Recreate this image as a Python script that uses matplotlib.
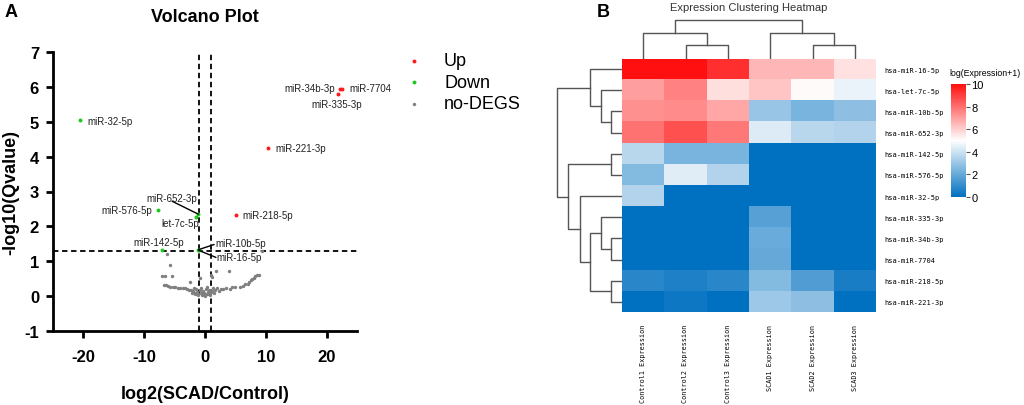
import numpy as np
import matplotlib
matplotlib.use("Agg")
import matplotlib.pyplot as plt
from matplotlib.colors import LinearSegmentedColormap

plt.rcParams['font.family'] = ['Liberation Sans', 'DejaVu Sans']
plt.rcParams['axes.unicode_minus'] = False

# ---------------- Volcano data ----------------
up_names = ["miR-34b-3p", "miR-7704", "miR-335-3p", "miR-221-3p", "miR-218-5p"]
up_x = [22.2, 22.6, 21.9, 10.4, 5.1]
up_y = [5.95, 5.95, 5.80, 4.24, 2.34]

down_names = ["miR-32-5p", "miR-576-5p", "miR-652-3p", "let-7c-5p", "miR-142-5p",
              "miR-10b-5p", "miR-16-5p"]
down_x = [-20.5, -7.7, -1.1, -1.5, -7.05, -1.1, -1.0]
down_y = [5.04, 2.47, 2.35, 2.26, 1.33, 1.33, 1.31]

nodeg_x = [-6.2, -5.7, -7.05, -6.5, -5.5, -0.83, 0.94, 1.8, 3.9, -2.4, 9.37, 1.2,
           -6.7, -6.4, -6.1, -5.7, -5.3, -4.9, -4.5, -4.1, -3.7, -3.3, -2.9, -2.6, -2.3,
           -2.0, -1.8, -1.7, -1.5, -1.3, -1.2, -1.1, -0.9, -0.7, -0.6, -0.5, -0.3, -0.1,
           0.0, 0.1, 0.3, 0.4, 0.5, 0.7, 0.8, 0.9, 1.1, 1.3, 1.5, 1.7, 2.0, 2.3, 2.6,
           3.0, 3.5, 4.1, 4.4, 4.9, 5.8, 6.3, 6.6, 7.0, 7.2, 7.5, 7.7, 8.0, 8.3, 8.6, 8.9,
           -1.6, -0.2, 0.6, 1.0, -2.1]
nodeg_y = [1.20, 0.90, 0.57, 0.57, 0.57, 0.51, 0.60, 0.73, 0.73, 0.41, 1.28, 0.55,
           0.32, 0.33, 0.28, 0.26, 0.25, 0.25, 0.24, 0.23, 0.22, 0.22, 0.20, 0.18, 0.17,
           0.15, 0.22, 0.10, 0.20, 0.12, 0.02, 0.06, 0.18, 0.10, 0.24, 0.03, 0.14, 0.08,
           0.01, 0.20, 0.05, 0.25, 0.12, 0.18, 0.03, 0.08, 0.15, 0.22, 0.10, 0.17, 0.22,
           0.15, 0.20, 0.20, 0.22, 0.20, 0.25, 0.25, 0.25, 0.28, 0.34, 0.36, 0.40, 0.45,
           0.49, 0.53, 0.57, 0.60, 0.60, 0.06, 0.04, 0.07, 0.12, 0.09]

# label positions (data coords) and alignment
label_pos = {
    "miR-32-5p": (-19.3, 5.03, "left", "center"),
    "miR-34b-3p": (21.4, 5.97, "right", "center"),
    "miR-7704": (23.7, 5.97, "left", "center"),
    "miR-335-3p": (21.65, 5.5, "center", "center"),
    "miR-221-3p": (11.5, 4.24, "left", "center"),
    "miR-218-5p": (6.2, 2.34, "left", "center"),
    "miR-576-5p": (-8.7, 2.47, "right", "center"),
    "miR-652-3p": (-5.5, 2.81, "center", "center"),
    "let-7c-5p": (-4.1, 2.09, "center", "center"),
    "miR-142-5p": (-7.55, 1.54, "center", "center"),
    "miR-10b-5p": (1.65, 1.51, "left", "center"),
    "miR-16-5p": (1.8, 1.11, "left", "center"),
}
with_line = ["miR-652-3p", "miR-10b-5p", "miR-16-5p"]
line_start = {"miR-652-3p": (-5.4, 2.72), "miR-10b-5p": (1.5, 1.48), "miR-16-5p": (1.8, 1.11)}

# ---------------- Heatmap data ----------------
genes = ["hsa-miR-16-5p", "hsa-let-7c-5p", "hsa-miR-10b-5p", "hsa-miR-652-3p",
         "hsa-miR-142-5p", "hsa-miR-576-5p", "hsa-miR-32-5p", "hsa-miR-335-3p",
         "hsa-miR-34b-3p", "hsa-miR-7704", "hsa-miR-218-5p", "hsa-miR-221-3p"]
samples = ["Control1 Expression", "Control2 Expression", "Control3 Expression",
           "SCAD1 Expression", "SCAD2 Expression", "SCAD3 Expression"]
expr = np.array([
    [10.0, 10.0, 9.3, 6.5, 6.5, 5.6],
    [7.0, 7.6, 5.7, 6.2, 5.1, 4.6],
    [7.3, 7.4, 6.8, 3.0, 2.4, 2.8],
    [7.9, 8.6, 7.8, 4.3, 3.6, 3.5],
    [3.6, 2.4, 2.4, 0.0, 0.0, 0.0],
    [2.6, 4.4, 3.5, 0.0, 0.0, 0.0],
    [3.5, 0.0, 0.0, 0.0, 0.0, 0.0],
    [0.0, 0.0, 0.0, 1.7, 0.0, 0.0],
    [0.0, 0.0, 0.0, 2.1, 0.0, 0.0],
    [0.0, 0.0, 0.0, 2.0, 0.0, 0.0],
    [0.8, 0.6, 0.8, 2.6, 1.6, 0.5],
    [0.0, 0.3, 0.0, 3.1, 2.8, 0.0],
])

# linkage in display order: (child_a, child_b, height in px)
row_links = [(2, 3, 10.7), (1, 12, 21.3), (0, 13, 32.0), (4, 5, 10.7), (8, 9, 10.7),
             (7, 16, 21.3), (10, 11, 10.7), (17, 18, 32.0), (6, 19, 42.0),
             (15, 20, 53.7), (14, 21, 64.7)]
col_links = [(1, 2, 13.3), (0, 6, 26.0), (4, 5, 13.3), (3, 8, 26.0), (7, 9, 38.3)]

W, H = 1024, 406
fig = plt.figure(figsize=(W / 100, H / 100), dpi=100)


def px_axes(l, t, r, b):
    return fig.add_axes([l / W, 1 - b / H, (r - l) / W, (b - t) / H])


# ---------------- Panel A ----------------
ax = px_axes(53, 53, 357, 332)
ax.scatter(nodeg_x, nodeg_y, s=6, c="#7f7f7f", linewidths=0, label="no-DEGS", zorder=2)
ax.scatter(down_x, down_y, s=8, c="#1ec81e", linewidths=0, label="Down", zorder=3)
ax.scatter(up_x, up_y, s=8, c="#ff1a1a", linewidths=0, label="Up", zorder=3)
ax.axhline(1.3, color="black", lw=1.3, ls=(0, (3, 2)), zorder=1)
ax.axvline(-1, color="black", lw=1.3, ls=(0, (3, 2)), zorder=1)
ax.axvline(1, color="black", lw=1.3, ls=(0, (3, 2)), zorder=1)

pts = dict(zip(up_names + down_names, zip(up_x + down_x, up_y + down_y)))
for name, (tx, ty, ha, va) in label_pos.items():
    if name in with_line:
        ax.annotate("", xy=pts[name], xytext=line_start[name],
                    arrowprops=dict(arrowstyle="-", color="black", lw=1, shrinkA=0, shrinkB=0))
    ax.text(tx, ty, name, fontsize=7, ha=ha, va=va, color="#222222", zorder=4)

ax.set_xlim(-25, 25)
ax.set_ylim(-1, 7)
ax.set_xticks([-20, -10, 0, 10, 20])
ax.set_yticks(range(-1, 8))
for s in ["top", "right"]:
    ax.spines[s].set_visible(False)
for s in ["left", "bottom"]:
    ax.spines[s].set_linewidth(2)
ax.tick_params(width=2, length=5, labelsize=12)
ax.tick_params(axis="y", pad=5)
ax.tick_params(axis="x", pad=8)
for lab in ax.get_xticklabels() + ax.get_yticklabels():
    lab.set_fontweight("bold")
ax.set_xlabel("log2(SCAD/Control)", fontsize=13, fontweight="bold", labelpad=15)
ax.set_ylabel("-log10(Qvalue)", fontsize=13, fontweight="bold", labelpad=4)
ax.set_title("Volcano Plot", fontsize=13, fontweight="bold", pad=22)

handles, labels = ax.get_legend_handles_labels()
order = [2, 1, 0]
ax.legend([handles[i] for i in order], [labels[i] for i in order],
          loc="upper left", bbox_to_anchor=(380 / W, 1 - 37 / H), bbox_transform=fig.transFigure,
          frameon=False, fontsize=13, handletextpad=0.65, labelspacing=0.25, markerscale=1.0)

fig.text(5 / W, 1 - 4 / H, "A", fontsize=13, fontweight="bold", va="top", ha="left")
fig.text(597 / W, 1 - 4 / H, "B", fontsize=13, fontweight="bold", va="top", ha="left")

# ---------------- Panel B ----------------
cmap = LinearSegmentedColormap.from_list("bwr2", ["#0070c0", "#ffffff", "#ff0f0f"])
hax = px_axes(622, 59.5, 876, 313.5)
im = hax.imshow(expr, cmap=cmap, vmin=0, vmax=10, aspect="auto", interpolation="nearest")
hax.set_xticks(range(len(samples)))
hax.set_xticklabels(samples, rotation=90, fontsize=4.9, family="DejaVu Sans Mono", va="top")
hax.set_yticks(range(len(genes)))
hax.set_yticklabels(genes, fontsize=5, family="DejaVu Sans Mono")
hax.yaxis.tick_right()
hax.tick_params(length=0, pad=6)
hax.tick_params(axis="x", pad=8)
for s in hax.spines.values():
    s.set_visible(False)


def dendro(ax, links, n, vertical):
    pos = {i: float(i) for i in range(n)}
    hgt = {i: 0.0 for i in range(n)}
    for k, (a, b, h) in enumerate(links):
        node = n + k
        p = [pos[a], pos[a], pos[b], pos[b]]
        q = [hgt[a], h, h, hgt[b]]
        if vertical:
            ax.plot(p, q, color="#555555", lw=1)
        else:
            ax.plot(q, p, color="#555555", lw=1)
        pos[node] = (pos[a] + pos[b]) / 2
        hgt[node] = h
    ax.axis("off")


cax_d = px_axes(622, 20, 876, 59.5)
dendro(cax_d, col_links, len(samples), True)
cax_d.set_xlim(-0.5, len(samples) - 0.5)
cax_d.set_ylim(0, 39.5)

rax = px_axes(555, 59.5, 622, 313.5)
dendro(rax, row_links, len(genes), False)
rax.set_ylim(len(genes) - 0.5, -0.5)
rax.set_xlim(67, 0)

fig.text(749 / W, 1 - 8 / H, "Expression Clustering Heatmap", fontsize=8, ha="center",
         va="center", color="#333333")

cbax = px_axes(951, 85, 966, 198)
cb = fig.colorbar(im, cax=cbax, ticks=[0, 2, 4, 6, 8, 10])
cb.outline.set_visible(False)
cbax.tick_params(labelsize=8, length=3, color="#555555", pad=1)
cbax.text(-0.1, 1.06, "log(Expression+1)", fontsize=6.3, ha="left", va="bottom",
          transform=cbax.transAxes)

fig.savefig("out.png", dpi=100)
